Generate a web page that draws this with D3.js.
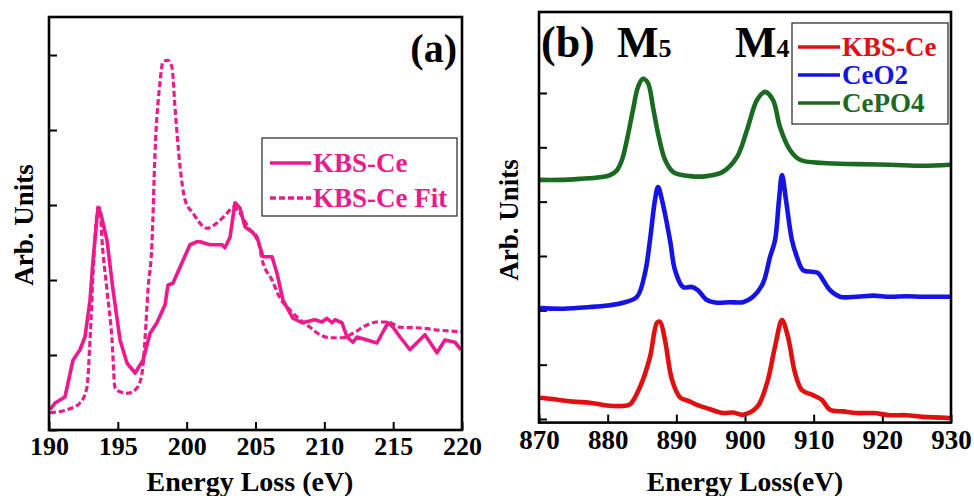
<!DOCTYPE html>
<html>
<head>
<meta charset="utf-8">
<script src="https://cdn.jsdelivr.net/npm/d3@7"></script>
<style>
  html, body { margin: 0; padding: 0; background: #fff; }
  svg { display: block; }
  text { font-family: "Liberation Serif", "Times New Roman", serif; font-weight: bold; }
</style>
</head>
<body>
<svg id="chart" width="974" height="496"></svg>
<script>
// ---------- Panel (a) data ----------
const aXTicks = [190, 195, 200, 205, 210, 215, 220];
const aYTicks = [0, 1, 2, 3, 4, 5];
const kbsX = [190.07,190.44,191.16,191.74,192.25,192.61,192.98,193.20,193.56,193.78,194.21,194.65,195.16,195.67,196.25,196.83,197.34,197.84,198.43,198.64,199.01,199.66,200.24,200.75,200.97,201.69,202.57,202.78,203.15,203.51,203.87,204.24,204.82,205.18,205.54,206.20,206.56,207.00,207.51,207.72,208.38,209.32,209.83,210.19,210.56,210.77,211.28,211.65,212.08,212.37,213.10,213.82,214.62,214.99,215.50,216.22,217.31,218.18,218.76,219.49,219.93];
const kbsY = [0.27,0.36,0.44,0.93,1.07,1.24,1.73,2.27,2.97,2.87,2.53,1.87,1.20,0.89,0.76,0.93,1.29,1.43,1.67,1.93,1.96,2.23,2.47,2.51,2.51,2.47,2.47,2.43,2.57,3.03,2.96,2.71,2.63,2.53,2.31,2.31,2.09,1.73,1.56,1.49,1.43,1.47,1.44,1.49,1.43,1.47,1.43,1.24,1.17,1.24,1.20,1.16,1.43,1.37,1.24,1.07,1.27,1.03,1.20,1.17,1.07];
const fitX = [190.07,191.31,192.25,192.76,192.98,193.20,193.49,193.70,193.85,194.21,194.58,194.79,195.16,195.74,196.39,196.76,196.97,197.19,197.48,197.70,198.06,198.28,198.64,198.93,199.15,199.52,199.88,200.46,201.48,202.20,202.93,203.37,203.87,204.60,205.11,205.54,206.20,206.78,207.51,208.23,208.96,209.68,210.41,211.35,212.08,213.10,213.82,214.62,215.50,216.95,218.40,220.00];
const fitY = [0.23,0.27,0.36,0.57,1.20,2.09,2.87,2.96,2.53,1.87,1.20,0.57,0.51,0.49,0.56,0.76,1.20,1.87,2.49,3.69,4.63,4.91,4.93,4.84,4.31,3.51,3.07,2.89,2.69,2.76,2.89,2.97,2.89,2.67,2.57,2.23,2.00,1.76,1.60,1.47,1.37,1.27,1.23,1.23,1.29,1.40,1.44,1.44,1.37,1.36,1.33,1.31];

// ---------- Panel (b) data ----------
const bXTicks = [870, 880, 890, 900, 910, 920, 930];
const bYTicks = [0, 1, 2, 3, 4, 5, 6];
const cepo4X = [870.15,873.06,875.97,878.88,880.34,881.36,882.09,882.81,883.69,884.42,885.14,885.87,886.60,887.33,888.35,889.51,891.99,894.46,896.80,898.83,900.29,901.75,902.91,904.08,905.10,906.55,908.01,911.36,916.31,921.11,925.92,929.85];
const cepo4Y = [4.40,4.40,4.42,4.45,4.49,4.58,4.77,5.14,5.69,6.11,6.26,6.18,5.74,5.26,4.77,4.55,4.47,4.47,4.55,4.82,5.32,5.87,6.02,5.87,5.37,4.95,4.77,4.71,4.69,4.68,4.66,4.68];
const ceo2X = [870.15,873.5,877.43,880.0,882.23,884.27,885.44,886.16,886.89,887.33,887.91,889.08,889.81,890.97,892.28,893.15,894.46,895.92,897.8,899.71,901.16,902.62,903.64,904.37,904.95,905.39,905.97,906.84,907.57,908.45,909.76,910.63,911.36,912.38,913.83,916.31,918.64,921.11,923.5,925.92,929.85];
const ceo2Y = [2.04,2.03,2.06,2.09,2.14,2.25,2.69,3.29,4.03,4.27,4.03,3.29,2.74,2.43,2.43,2.37,2.19,2.14,2.15,2.15,2.25,2.50,2.98,3.29,4.03,4.49,4.03,3.29,2.98,2.74,2.71,2.69,2.56,2.37,2.25,2.25,2.27,2.25,2.26,2.25,2.25];
const kbsbX = [870.15,872.5,874.95,877.4,879.9,882.1,883.25,884.71,886.16,887.18,887.62,888.35,889.37,890.53,891.8,893.01,894.9,896.80,898.3,899.71,901.75,903.20,904.37,905.39,906.26,907.28,908.30,909.90,911.21,912.38,914.3,916.31,918.7,921.11,923.5,925.92,929.85];
const kbsbY = [0.39,0.36,0.32,0.30,0.25,0.24,0.27,0.59,1.14,1.77,1.79,1.45,0.72,0.40,0.33,0.26,0.18,0.11,0.12,0.08,0.22,0.66,1.33,1.82,1.51,0.85,0.53,0.44,0.35,0.17,0.14,0.11,0.11,0.07,0.07,0.04,0.02];

const pink = "#EC1A8A";
const svg = d3.select("#chart");

function panel(cfg) {
  const g = svg.append("g");
  const x = d3.scaleLinear().domain(cfg.xDomain).range([cfg.left, cfg.right]);
  const y = d3.scaleLinear().domain(cfg.yDomain).range([cfg.bottom, cfg.top]);
  const clipId = cfg.id + "-clip";
  svg.append("clipPath").attr("id", clipId).append("rect")
    .attr("x", cfg.left).attr("y", cfg.top)
    .attr("width", cfg.right - cfg.left).attr("height", cfg.bottom - cfg.top);

  const xa = g.append("g").attr("transform", `translate(0,${cfg.bottom})`)
    .call(d3.axisBottom(x).tickValues(cfg.xTicks).tickSizeInner(-8).tickSizeOuter(0)
      .tickPadding(cfg.xPad).tickFormat(d3.format("d")));
  xa.select(".domain").remove();
  xa.selectAll("line").attr("stroke", "#000").attr("stroke-width", 2);
  xa.selectAll("text").attr("fill", "#000").style("font-size", cfg.tickFont + "px")
    .style("font-family", '"Liberation Serif", serif').style("font-weight", "bold");

  const ya = g.append("g").attr("transform", `translate(${cfg.left},0)`)
    .call(d3.axisLeft(y).tickValues(cfg.yTicks).tickSizeInner(-8).tickSizeOuter(0).tickFormat(""));
  ya.select(".domain").remove();
  ya.selectAll("line").attr("stroke", "#000").attr("stroke-width", 2);

  return { g, x, y, clipId };
}

// ----- Panel (a) -----
const A = panel({ id: "a", xDomain: [190, 220], yDomain: [0, 5.507], left: 49, right: 462, top: 17, bottom: 430,
  xTicks: aXTicks, yTicks: aYTicks, xPad: 7, tickFont: 26 });
const lineA = d3.line().x((d) => A.x(d[0])).y((d) => A.y(d[1]));
const lineAFit = d3.line().x((d) => A.x(d[0])).y((d) => A.y(d[1])).curve(d3.curveMonotoneX);
A.g.append("path").datum(d3.zip(fitX, fitY)).attr("d", lineAFit)
  .attr("fill", "none").attr("stroke", pink).attr("stroke-width", 3.2)
  .attr("stroke-dasharray", "6,3").attr("clip-path", `url(#${A.clipId})`);
A.g.append("path").datum(d3.zip(kbsX, kbsY)).attr("d", lineA)
  .attr("fill", "none").attr("stroke", pink).attr("stroke-width", 3.6)
  .attr("stroke-linejoin", "round").attr("clip-path", `url(#${A.clipId})`);
A.g.append("rect").attr("x", 49).attr("y", 17).attr("width", 413).attr("height", 413)
  .attr("fill", "none").attr("stroke", "#000").attr("stroke-width", 2.6);

// legend (a)
const legA = svg.append("g");
legA.append("rect").attr("x", 262).attr("y", 138).attr("width", 195).attr("height", 78)
  .attr("fill", "#fff").attr("stroke", "#333").attr("stroke-width", 1.3);
const legAItems = [{ name: "KBS-Ce", dash: null }, { name: "KBS-Ce Fit", dash: "6,3" }];
legAItems.forEach((it, i) => {
  const yy = 163 + i * 35;
  legA.append("line").attr("x1", 270).attr("x2", 311).attr("y1", yy).attr("y2", yy)
    .attr("stroke", pink).attr("stroke-width", 3.6).attr("stroke-dasharray", it.dash);
  legA.append("text").attr("x", 313).attr("y", yy + 9).text(it.name)
    .attr("fill", pink).style("font-size", "27px");
});
svg.append("text").attr("x", 457).attr("y", 62).attr("text-anchor", "end")
  .style("font-size", "40px").attr("fill", "#000").text("(a)");
svg.append("text").attr("x", 250).attr("y", 491).attr("text-anchor", "middle")
  .style("font-size", "28px").attr("fill", "#000").text("Energy Loss (eV)");
svg.append("text").attr("transform", "translate(33,225) rotate(-90)").attr("text-anchor", "middle")
  .style("font-size", "27px").attr("fill", "#000").text("Arb. Units");

// ----- Panel (b) -----
const B = panel({ id: "b", xDomain: [870, 930], yDomain: [-0.066, 7.49], left: 539, right: 951, top: 12, bottom: 422.6,
  xTicks: bXTicks, yTicks: bYTicks, xPad: 7, tickFont: 27 });
const lineB = d3.line().x((d) => B.x(d[0])).y((d) => B.y(d[1])).curve(d3.curveCatmullRom.alpha(0.5));
const bSeries = [
  { name: "KBS-Ce", xs: kbsbX, ys: kbsbY, color: "#E01010" },
  { name: "CeO2", xs: ceo2X, ys: ceo2Y, color: "#1414E6" },
  { name: "CePO4", xs: cepo4X, ys: cepo4Y, color: "#1B6A22" }
];
bSeries.forEach((s) => {
  B.g.append("path").datum(d3.zip(s.xs, s.ys)).attr("d", lineB)
    .attr("fill", "none").attr("stroke", s.color).attr("stroke-width", 4.6)
    .attr("stroke-linejoin", "round").attr("clip-path", `url(#${B.clipId})`);
});
B.g.append("rect").attr("x", 539).attr("y", 12).attr("width", 412).attr("height", 410.6)
  .attr("fill", "none").attr("stroke", "#000").attr("stroke-width", 2.6);

// legend (b)
const legB = svg.append("g");
legB.append("rect").attr("x", 792).attr("y", 23).attr("width", 156).attr("height", 101)
  .attr("fill", "#fff").attr("stroke", "#333").attr("stroke-width", 1.3);
bSeries.forEach((s, i) => {
  const yy = 47 + i * 28;
  legB.append("line").attr("x1", 798).attr("x2", 840).attr("y1", yy).attr("y2", yy)
    .attr("stroke", s.color).attr("stroke-width", 3.6);
  legB.append("text").attr("x", 842).attr("y", yy + 9).text(s.name)
    .attr("fill", s.color).style("font-size", "27px");
});
svg.append("text").attr("x", 541).attr("y", 57).style("font-size", "44px").attr("fill", "#000").text("(b)");
const m5 = svg.append("text").attr("x", 617).attr("y", 57).attr("fill", "#000");
m5.append("tspan").style("font-size", "44px").text("M");
m5.append("tspan").style("font-size", "26px").text("5");
const m4 = svg.append("text").attr("x", 735).attr("y", 57).attr("fill", "#000");
m4.append("tspan").style("font-size", "44px").text("M");
m4.append("tspan").style("font-size", "26px").text("4");
svg.append("text").attr("x", 745).attr("y", 491).attr("text-anchor", "middle")
  .style("font-size", "27.5px").attr("fill", "#000").text("Energy Loss(eV)");
svg.append("text").attr("transform", "translate(518,220) rotate(-90)").attr("text-anchor", "middle")
  .style("font-size", "27px").attr("fill", "#000").text("Arb. Units");
</script>
</body>
</html>
